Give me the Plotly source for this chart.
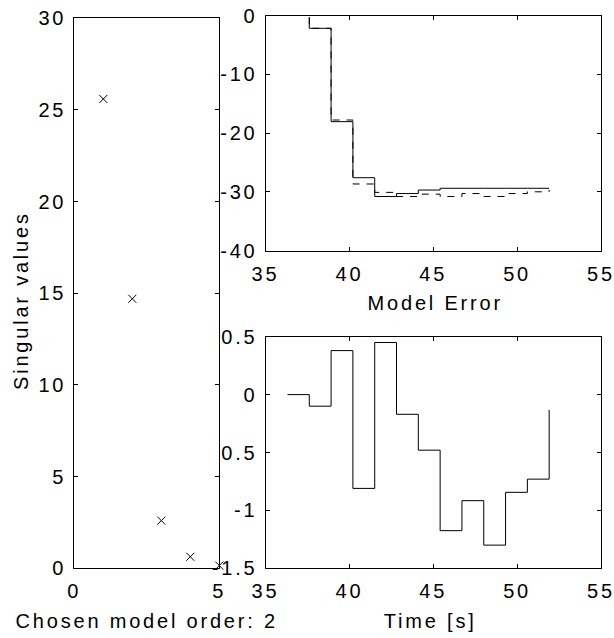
import plotly.graph_objects as go

# ---------------- data ----------------
order = [1, 2, 3, 4, 5]
singular_values = [25.6, 14.7, 2.6, 0.63, 0.15]

err_time = [37.61, 37.61, 38.91, 40.21, 41.51, 42.81, 44.11, 45.41, 46.71, 48.01, 49.31, 50.61, 51.91]
err_solid = [-0.28, -2.15, -18.05, -27.6, -30.8, -30.3, -29.7, -29.4, -29.4, -29.4, -29.4, -29.4, -29.4]
err_dashed = [-0.28, -2.15, -17.77, -28.67, -30.1, -30.8, -30.4, -30.8, -30.3, -30.8, -30.3, -30.0, -29.7]

time_s = [36.31, 37.61, 38.91, 40.21, 41.51, 42.81, 44.11, 45.41, 46.71, 48.01, 49.31, 50.61, 51.91]
signal = [0.0, -0.10, 0.38, -0.81, 0.45, -0.17, -0.48, -1.175, -0.916, -1.30, -0.844, -0.73, -0.133]

left_yticks = [0, 5, 10, 15, 20, 25, 30]
left_xticks = [0, 5]
right_xticks = [35, 40, 45, 50, 55]
top_yticks = [0, -10, -20, -30, -40]
top_yticktext = ["0", "-10", "-20", "-30", "-40"]
bot_yticks = [0.5, 0, -0.5, -1, -1.5]
bot_yticktext = ["0.5", "0", "0.5", "-1", "-1.5"]

# ---------------- layout helpers ----------------
W, H = 614, 638
FONT = "Liberation Sans, Arial, sans-serif"
FS = 20


def dx(px0, px1):
    return [px0 / W, px1 / W]


def dy(py_top, py_bot):
    return [1 - py_bot / H, 1 - py_top / H]


def ax(domain, rng, tickvals, ticktext=None, anchor=None, standoff=6):
    d = dict(
        domain=domain, range=rng, tickvals=tickvals, ticks="inside", ticklen=4,
        tickwidth=1, tickcolor="black", showline=True, linecolor="black",
        linewidth=1, mirror="ticks", showgrid=False, zeroline=False,
        tickfont=dict(family=FONT, size=FS, color="black"), anchor=anchor,
        ticklabelstandoff=standoff, automargin=False,
    )
    if ticktext is not None:
        d["ticktext"] = ticktext
    return d


fig = go.Figure()

fig.add_trace(go.Scatter(
    x=order, y=singular_values, mode="markers", xaxis="x", yaxis="y",
    marker=dict(symbol="x-thin", size=8, line=dict(width=1, color="black"), color="black"),
    cliponaxis=False, showlegend=False,
))

fig.add_trace(go.Scatter(
    x=err_time, y=err_solid, mode="lines", line_shape="hv", xaxis="x2", yaxis="y2",
    line=dict(color="black", width=1), showlegend=False,
))
fig.add_trace(go.Scatter(
    x=err_time, y=err_dashed, mode="lines", line_shape="hv", xaxis="x2", yaxis="y2",
    line=dict(color="black", width=1, dash="7px,7px"), showlegend=False,
))

fig.add_trace(go.Scatter(
    x=time_s, y=signal, mode="lines", line_shape="hv", xaxis="x3", yaxis="y3",
    line=dict(color="black", width=1), showlegend=False,
))

LX0, LX1 = 74.3, 219.3
RX0, RX1 = 265.5, 601
fig.update_layout(
    width=W, height=H, margin=dict(l=0, r=0, t=0, b=0, pad=0, autoexpand=False),
    autosize=False,
    paper_bgcolor="white", plot_bgcolor="white",
    font=dict(family=FONT, size=FS, color="black"),
    xaxis=ax(dx(LX0, LX1), [0, 5], left_xticks, anchor="y", standoff=5),
    yaxis=ax(dy(18.3, 568.3), [0, 30], left_yticks, anchor="x", standoff=3),
    xaxis2=ax(dx(RX0, RX1), [35, 55], right_xticks, anchor="y2", standoff=5),
    yaxis2=ax(dy(15.7, 250.5), [-40, 0], top_yticks, top_yticktext, anchor="x2", standoff=3),
    xaxis3=ax(dx(RX0, RX1), [35, 55], right_xticks, anchor="y3", standoff=5),
    yaxis3=ax(dy(336.7, 568.3), [-1.5, 0.5], bot_yticks, bot_yticktext, anchor="x3", standoff=3),
)


def label(text, px, py, angle=0):
    fig.add_annotation(
        text=text, x=px / W, y=1 - py / H, xref="paper", yref="paper",
        showarrow=False, textangle=angle, xanchor="center", yanchor="middle",
        font=dict(family=FONT, size=FS, color="black"),
    )


label("Singular values", 21, 301, -90)
label("Chosen model order: 2", 146.5, 621)
label("Time [s]", 430, 621)
label("Model Error", 435, 303)

# MATLAB-style wide character spacing of the original rendering
post = (
    "document.body.style.margin='0px';"
    "var gd=document.getElementById('{plot_id}');"
    "gd.querySelectorAll('text').forEach(function(t){t.style.letterSpacing='2.8px';});"
)

fig.write_html("out.html", post_script=post)
